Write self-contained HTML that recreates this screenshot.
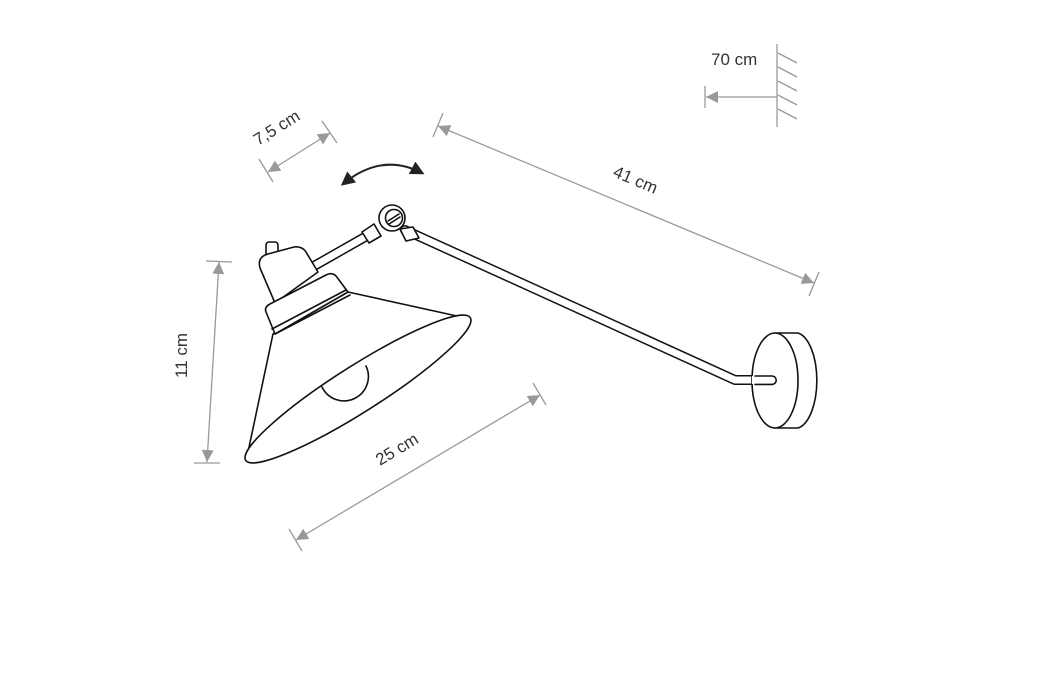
<!DOCTYPE html>
<html><head><meta charset="utf-8"><style>
html,body{margin:0;padding:0;background:#fff}
svg{display:block}
text{font-family:"Liberation Sans",sans-serif;font-size:17px;fill:#333}
</style></head><body>
<svg width="1060" height="677" viewBox="0 0 1060 677" xmlns="http://www.w3.org/2000/svg">
<defs>
<marker id="ah" viewBox="0 0 10 10" refX="10" refY="5" markerWidth="12" markerHeight="12" markerUnits="userSpaceOnUse" orient="auto-start-reverse"><path d="M0,0 L10,5 L0,10 z" fill="#999"/></marker>
<marker id="bh" viewBox="0 0 10 10" refX="8" refY="5" markerWidth="14" markerHeight="14" markerUnits="userSpaceOnUse" orient="auto-start-reverse"><path d="M0,0 L10,5 L0,10 z" fill="#222"/></marker>
</defs>
<g stroke="#999" stroke-width="1.3" fill="none">
<line x1="268" y1="172" x2="330" y2="133" marker-start="url(#ah)" marker-end="url(#ah)"/>
<line x1="259" y1="159" x2="273" y2="182"/><line x1="322" y1="121" x2="337" y2="143"/>
<line x1="438" y1="126" x2="814" y2="283" marker-start="url(#ah)" marker-end="url(#ah)"/>
<line x1="443" y1="113" x2="433" y2="137"/><line x1="819" y1="272" x2="809" y2="296"/>
<line x1="219" y1="262" x2="207" y2="462" marker-start="url(#ah)" marker-end="url(#ah)"/>
<line x1="206" y1="261" x2="232" y2="262"/><line x1="194" y1="463" x2="220" y2="463"/>
<line x1="296" y1="540" x2="540" y2="395" marker-start="url(#ah)" marker-end="url(#ah)"/>
<line x1="289" y1="529" x2="302" y2="551"/><line x1="533" y1="383" x2="546" y2="405"/>
<line x1="777" y1="97" x2="706" y2="97" marker-end="url(#ah)"/>
<line x1="705" y1="86" x2="705" y2="108"/>
<line x1="777" y1="44" x2="777" y2="127"/>
<line x1="778" y1="53" x2="797" y2="63"/><line x1="778" y1="67" x2="797" y2="77"/><line x1="778" y1="81" x2="797" y2="91"/><line x1="778" y1="95" x2="797" y2="105"/><line x1="778" y1="109" x2="797" y2="119"/>
</g>
<text x="711" y="65">70 cm</text>
<text transform="translate(258,146) rotate(-32)">7,5 cm</text>
<text transform="translate(612,176) rotate(23)">41 cm</text>
<text transform="translate(187,378) rotate(-90)">11 cm</text>
<text transform="translate(380,466) rotate(-31)">25 cm</text>
<path d="M343,184 Q382,152 422,173" stroke="#222" stroke-width="2" fill="none" marker-start="url(#bh)" marker-end="url(#bh)"/>
<g stroke="#111" stroke-width="1.6" fill="#fff" stroke-linejoin="round" stroke-linecap="round">
<path d="M405,230 L735,380 L772,380" stroke="#111" stroke-width="10" fill="none"/>
<path d="M405,230 L735,380 L772,380" stroke="#fff" stroke-width="7" fill="none"/>
<path d="M775,333 L798,333 A22,48 0 0 1 798,428 L775,428 Z"/>
<ellipse cx="775" cy="380.5" rx="23" ry="47.5"/>
<path d="M752,376 L772,376 A4,4 0 0 1 772,384 L752,384" stroke="none"/>
<path d="M755,376 L772,376 A4.2,4.2 0 0 1 772,384.4 L755,384.4" fill="none"/>
<path d="M314,266 L365,237" stroke="#111" stroke-width="10" fill="none"/>
<path d="M314,266 L365,237" stroke="#fff" stroke-width="7" fill="none"/>
<path d="M362,232 L374,224 L381,236 L369,243 Z"/>
<path d="M400,229 L413,227 L419,238 L406,241 Z"/>
<circle cx="392" cy="218" r="13"/>
<circle cx="394" cy="218" r="8.5"/>
<path d="M388,221 L399,214"/><path d="M389,224 L400,217"/>
<path d="M273,334 L248,452 L466,318 L348,292 Z"/>
<ellipse cx="358" cy="389" rx="133" ry="23" transform="rotate(-32.4 358 389)"/>
<path d="M322,387 A23,23 0 0 0 366,366" fill="none"/>
<rect x="266" y="242" width="12" height="14" rx="3"/>
<path d="M275,303 L260,268 Q257,257 268,254 L294,247 Q302,246 306,252 L318,272 Z"/>
<path d="M266,312 Q264,307 270,304 L326,275 Q332,272 336,276 L348,292 L275,334 Z"/>
<path d="M272,329 L346,290" fill="none"/>
<path d="M275,334 L350,295" fill="none"/>
</g>
</svg>
</body></html>
